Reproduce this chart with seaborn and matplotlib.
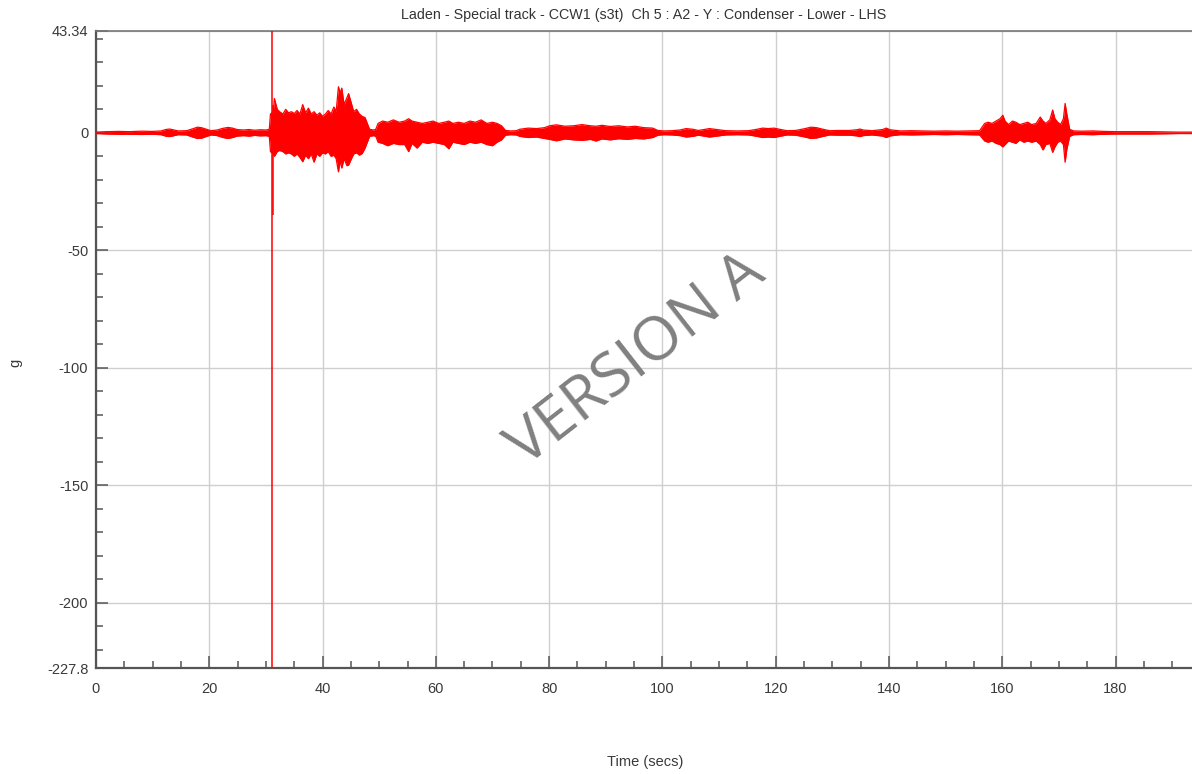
import numpy as np
import pandas as pd
import matplotlib
matplotlib.use("Agg")
import matplotlib.pyplot as plt
from matplotlib.ticker import MultipleLocator, FixedLocator, FixedFormatter
import seaborn as sns

# ---------------- data (envelope of the acceleration trace) -------------
title = "Laden - Special track - CCW1 (s3t)  Ch 5 : A2 - Y : Condenser - Lower - LHS"
x_label = "Time (secs)"
y_label = "g"
watermark = "VERSION A"

# quiet start
t0 = [0, 2, 4, 6, 8, 10, 11.5, 12.3, 13, 13.6, 14.5, 16, 17.2, 17.9, 18.6, 19.4, 20.3, 21.4,
      22.4, 23.3, 24.1, 24.9, 26, 27, 28, 29, 30, 30.6]
hi0 = [0.3, 0.5, 0.6, 0.5, 0.7, 0.6, 0.8, 1.4, 1.6, 1.3, 0.8, 0.9, 1.8, 2.4, 2.2, 1.6, 0.9, 1.2,
       1.9, 2.3, 2.0, 1.4, 1.2, 1.4, 1.1, 1.3, 1.2, 1.5]
lo0 = [-0.3, -0.5, -0.6, -0.6, -0.7, -0.6, -0.8, -1.4, -1.6, -1.3, -0.8, -0.9, -1.9, -2.4, -2.3,
       -1.6, -0.9, -1.2, -2.0, -2.4, -2.0, -1.4, -1.2, -1.4, -1.1, -1.3, -1.2, -1.5]

# first rough section
t1 = [30.8, 31.3, 31.5, 32.0, 32.4, 33, 33.5, 34, 34.5, 35, 35.5, 36, 36.5, 37, 37.5, 38, 38.5,
      39, 39.5, 40, 40.5, 41, 41.5, 42, 42.4, 42.8, 43.1, 43.4, 43.8, 44.3, 44.6, 45.1, 45.5, 46,
      46.5, 47, 47.5, 47.9, 48.3, 49, 49.4]
hi1 = [8, 9, 14.6, 10, 9, 8, 10, 8.5, 9, 8.2, 9.5, 8, 12, 8.5, 10.5, 8, 9, 7.5, 8.5, 7, 8, 9.5, 8,
       11, 9, 19.6, 17, 19, 12, 15, 16.7, 12.5, 9, 10, 8, 7, 6.5, 4, 1.5, 1.2, 1.5]
lo1 = [-8, -9, -10, -8, -7.5, -8, -9, -8.5, -9, -10, -9, -10.5, -12.3, -9.5, -11, -9, -12.5, -9,
       -10, -8.5, -9, -8, -10, -9.5, -11, -16.6, -12, -15, -11, -14, -13.7, -11, -9, -8.5, -9.5,
       -8.8, -6.5, -4, -1.5, -1.2, -1.5]

# second section
t2 = [49.8, 50.6, 51.5, 52.5, 53.5, 54.5, 55.2, 55.8, 56.7, 57.6, 58.6, 59.5, 60.5, 61.5, 62.3,
      63, 64, 65, 66, 67, 68, 69, 70, 70.8, 71.6, 72.3, 73.2, 74.2]
hi2 = [4, 5, 4.5, 5.5, 4.5, 5, 6, 5, 4.5, 4, 4.5, 5, 4, 4.5, 5, 4, 4.5, 4, 5, 4.5, 5.5, 4, 4.5, 4,
       3, 1, 0.8, 0.9]
lo2 = [-4, -4.5, -5.5, -4.5, -5, -5, -8, -4.5, -6.5, -4, -4.5, -4, -4.5, -5, -6.8, -4, -4.5, -5,
       -4, -4.5, -4, -5, -5.5, -4, -3, -1, -0.8, -0.9]

# third section
t3 = [74.8, 76.3, 77.8, 79.2, 80.1, 81.3, 82.8, 84.3, 85.8, 87.3, 88.3, 89.3, 90.8, 92.3, 93.8,
      95.2, 96.7, 98.3, 99.2, 100.3, 101.7, 103.1, 104.2, 105.4, 106.3, 107.1, 108.3, 109.6,
      111.2, 113.2, 115.2]
hi3 = [1.5, 2, 1.8, 2.2, 3, 3.4, 2.8, 3, 3.5, 3, 2.8, 3.2, 2.7, 3, 2.5, 2.8, 2.2, 2, 1, 0.8, 0.9,
       1.2, 1.8, 1.5, 1, 1.3, 1.8, 1.4, 0.9, 0.8, 0.9]
lo3 = [-1.5, -2, -1.8, -2.4, -2.8, -3.4, -2.6, -3, -3.2, -2.8, -3.5, -2.6, -3, -2.5, -2.8, -2.4,
       -2.6, -2, -1, -0.8, -0.9, -1.2, -1.8, -1.5, -1, -1.3, -1.8, -1.4, -0.9, -0.8, -0.9]

# small bursts
t4 = [116.7, 117.7, 118.7, 119.7, 120.7, 122, 123.5, 125.2, 126.2, 127.2, 128.2, 129.5, 131, 133,
      134.3, 134.9, 135.4, 137, 138.9, 139.5, 140.2, 142, 144, 146, 148, 150, 152, 154, 156]
hi4 = [1.5, 2, 1.8, 2, 1.5, 0.9, 1, 1.8, 2.4, 2.2, 1.6, 0.9, 1, 1, 1.3, 1.6, 1.2, 0.9, 1.4, 2, 1.3,
       0.8, 0.9, 0.8, 0.7, 0.8, 0.7, 0.8, 0.9]
lo4 = [-1.5, -2, -1.8, -2, -1.5, -0.9, -1, -1.8, -2.4, -2.2, -1.6, -0.9, -1, -1, -1.3, -1.6, -1.2,
       -0.9, -1.4, -2, -1.3, -0.8, -0.9, -0.8, -0.7, -0.8, -0.7, -0.8, -0.9]

# last rough section and tail
t5 = [156.9, 157.5, 158.2, 158.9, 159.6, 160.1, 160.5, 161.1, 161.8, 162.4, 163.1, 163.8, 164.5,
      165.2, 166, 166.7, 167.2, 167.7, 168.4, 168.9, 169.3, 169.8, 170.3, 170.8, 171.1, 171.4,
      171.9, 172.6, 174, 176, 178, 180, 183, 186, 189, 191, 193.5]
hi5 = [4, 4.5, 4, 5, 6, 7.5, 5, 3.5, 5, 4.5, 3.5, 4, 4.5, 3.5, 4, 6.7, 5, 4, 5.5, 9.7, 6, 4.5,
       3.5, 6, 12.5, 8, 1.5, 0.8, 0.7, 0.8, 0.6, 0.5, 0.5, 0.5, 0.4, 0.3, 0.3]
lo5 = [-3.5, -4, -3.5, -4.5, -5, -6, -5, -3.5, -4, -4.5, -3, -4, -3.5, -4, -3.5, -5, -7.3, -5,
       -4.5, -8.3, -6, -4, -3.5, -5, -12.5, -7, -1.5, -0.8, -0.7, -0.8, -0.6, -0.5, -0.5, -0.5,
       -0.4, -0.3, -0.3]

# isolated spikes
spike_t = [31.0, 31.2]
spike_top = [43.34, 12]
spike_bottom = [-227.8, -35]

x_ticks = [0, 20, 40, 60, 80, 100, 120, 140, 160, 180]
y_ticks = [43.34, 0, -50, -100, -150, -200, -227.8]
y_tick_labels = ["43.34", "0", "-50", "-100", "-150", "-200", "-227.8"]
x_range = (0, 193.5)
y_range = (-227.8, 43.34)

# ---------------- figure -------------
sns.set_style("white")
plt.rcParams["font.family"] = ["Liberation Sans", "DejaVu Sans"]

df = pd.DataFrame({
    "t": t0 + t1 + t2 + t3 + t4 + t5,
    "hi": hi0 + hi1 + hi2 + hi3 + hi4 + hi5,
    "lo": lo0 + lo1 + lo2 + lo3 + lo4 + lo5,
})

fig = plt.figure(figsize=(11.92, 7.74), dpi=100)
ax = fig.add_axes([96 / 1192, 1 - 668 / 774, 1 - 96 / 1192, 637 / 774])

red = "#ff0000"
ax.fill_between(df["t"], df["lo"], df["hi"], color=red, lw=0, zorder=3)
sns.lineplot(data=df, x="t", y="hi", ax=ax, color=red, lw=0.9, estimator=None, sort=False, zorder=3)
sns.lineplot(data=df, x="t", y="lo", ax=ax, color=red, lw=0.9, estimator=None, sort=False, zorder=3)
ax.vlines(spike_t, spike_bottom, spike_top, color=red, lw=1.1, zorder=3)

ax.set_xlim(*x_range)
ax.set_ylim(*y_range)

ax.xaxis.set_major_locator(FixedLocator(x_ticks))
ax.xaxis.set_minor_locator(MultipleLocator(5))
ax.yaxis.set_major_locator(FixedLocator(y_ticks))
ax.yaxis.set_major_formatter(FixedFormatter(y_tick_labels))
ax.yaxis.set_minor_locator(MultipleLocator(10))

ax.tick_params(which="major", direction="in", length=8.6, width=1.1, color="#555555",
               labelsize=10.5, labelcolor="#3a3a3a")
ax.tick_params(which="minor", direction="in", length=5, width=1.1, color="#555555")
ax.tick_params(axis="y", which="both", left=True, right=False, pad=5.5)
ax.tick_params(axis="x", which="both", bottom=True, top=False, pad=10)

ax.grid(True, which="major", color="#cfcfcf", lw=1)
ax.set_axisbelow(True)

for side in ["left", "bottom"]:
    ax.spines[side].set_color("#555555")
    ax.spines[side].set_linewidth(1.6)
ax.spines["top"].set_color("#777777")
ax.spines["top"].set_linewidth(1.2)
ax.spines["right"].set_visible(False)

ax.set_xlabel(x_label, fontsize=10.5, color="#3a3a3a")
ax.xaxis.set_label_coords((645 - 96) / 1096, (668 - 762) / 637)
ax.xaxis.label.set_va("center")
ax.set_ylabel(y_label, fontsize=10.5, color="#3a3a3a")
ax.yaxis.set_label_coords((15 - 96) / 1096, (668 - 363) / 637)
ax.yaxis.label.set_va("center")

fig.text(644 / 1192, 1 - 15 / 774, title, ha="center", va="center", fontsize=10.3, color="#333333")

fig.text(637 / 1192, 1 - 360 / 774, watermark, ha="center", va="center", rotation=38,
         fontsize=44, color="#808080", family=["Open Sans", "DejaVu Sans"], zorder=5)

fig.savefig("out.png", dpi=100)
